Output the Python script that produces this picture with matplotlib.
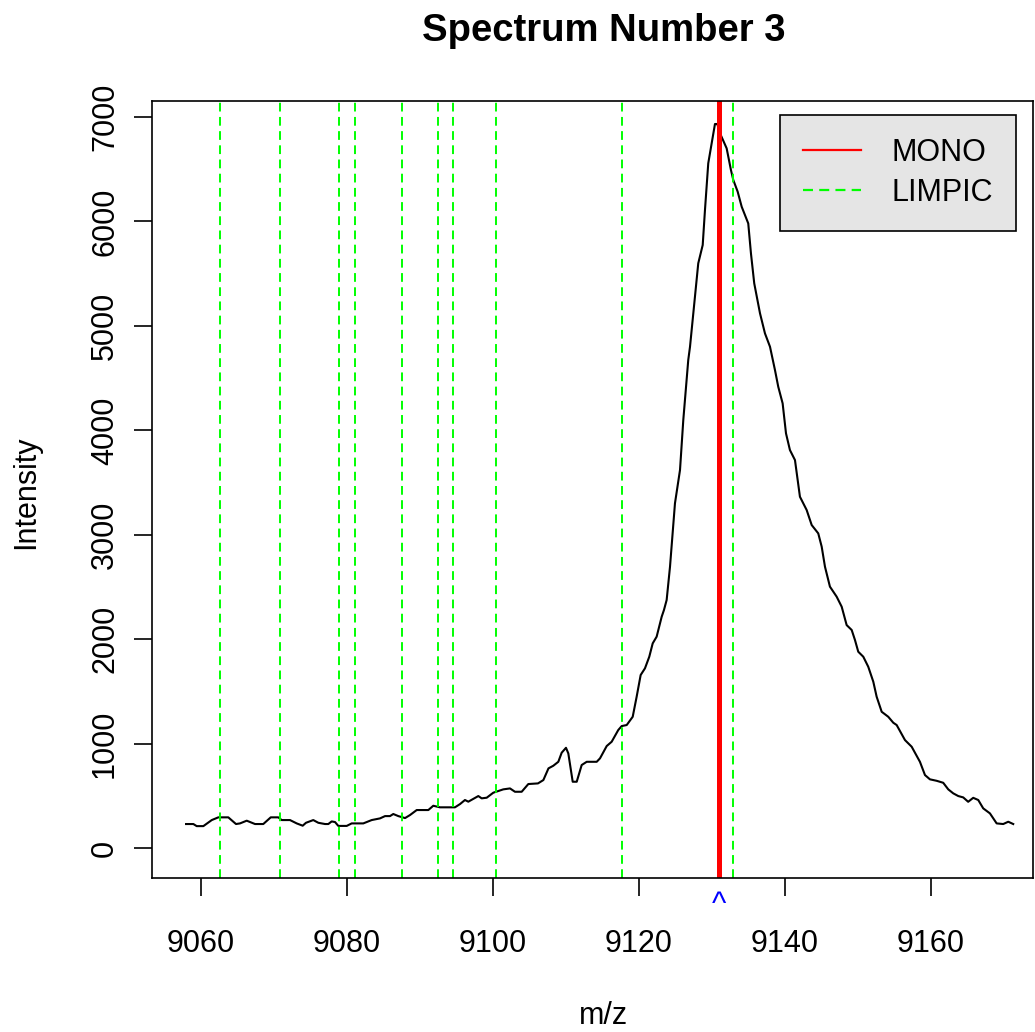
import matplotlib
matplotlib.use("Agg")
from matplotlib import pyplot as plt
from matplotlib.lines import Line2D
from matplotlib import transforms

plt.rcParams['font.family'] = ['Liberation Sans', 'DejaVu Sans']

# spectrum
mz = [9057.95, 9058.95, 9059.41, 9060.32, 9061.47, 9062.37, 9063.74, 9064.79, 9065.34,
      9066.26, 9067.40, 9068.53, 9069.55, 9070.59, 9071.05, 9072.19, 9073.11, 9073.93,
      9074.38, 9075.38, 9076.07, 9076.99, 9077.44, 9077.90, 9078.36, 9078.81, 9079.96,
      9080.64, 9082.23, 9083.38, 9084.52, 9085.21, 9085.89, 9086.34, 9087.03, 9087.95,
      9088.63, 9089.55, 9091.14, 9091.82, 9092.74, 9094.79, 9095.48, 9096.16, 9096.62,
      9097.99, 9098.45, 9099.14, 9100.04, 9101.41, 9102.33, 9103.01, 9103.93, 9104.84,
      9106.16, 9106.90, 9107.60, 9108.26, 9108.95, 9109.41, 9110.00, 9110.32, 9110.92,
      9111.47, 9112.15, 9112.84, 9114.21, 9114.66, 9115.58, 9116.26, 9117.16, 9117.63,
      9118.32, 9119.14, 9119.68, 9120.23, 9120.82, 9121.41, 9121.88, 9122.42, 9123.11,
      9123.42, 9123.79, 9124.25, 9124.93, 9125.62, 9126.07, 9126.75, 9126.99, 9127.44,
      9128.12, 9128.73, 9129.04, 9129.49, 9129.96, 9130.41, 9130.73, 9131.10, 9132.01,
      9132.60, 9132.92, 9133.52, 9134.07, 9134.97, 9135.34, 9135.79, 9136.58, 9137.26,
      9137.95, 9138.63, 9139.08, 9139.68, 9140.14, 9140.68, 9141.37, 9142.05, 9142.97,
      9143.66, 9144.56, 9145.03, 9145.48, 9146.16, 9147.08, 9147.77, 9148.45, 9149.14,
      9149.59, 9150.04, 9150.73, 9151.41, 9152.10, 9152.56, 9153.25, 9154.15, 9154.84,
      9155.30, 9156.44, 9157.36, 9158.49, 9159.18, 9159.86, 9160.78, 9161.68, 9162.37,
      9163.05, 9163.74, 9164.42, 9165.10, 9165.79, 9166.48, 9167.16, 9168.08, 9169.00,
      9169.90, 9170.59, 9171.27]
intensity = [230, 230, 210, 210, 268, 294, 294, 230, 236,
             262, 230, 230, 294, 294, 268, 268, 236, 214,
             242, 268, 242, 230, 230, 255, 249, 212, 212,
             236, 236, 268, 284, 306, 306, 326, 306, 287,
             316, 364, 364, 405, 390, 390, 421, 460, 444,
             498, 476, 482, 530, 562, 571, 539, 539, 613,
             619, 651, 763, 788, 826, 913, 960, 906, 635,
             635, 795, 826, 826, 859, 977, 1018, 1130, 1168,
             1178, 1257, 1449, 1657, 1721, 1832, 1960, 2024, 2215,
             2279, 2375, 2694, 3301, 3620, 4098, 4673, 4800, 5120,
             5599, 5774, 6109, 6557, 6748, 6933, 6933, 6844, 6700,
             6492, 6397, 6285, 6141, 5981, 5694, 5407, 5120, 4928,
             4800, 4577, 4417, 4258, 3971, 3811, 3715, 3364, 3237,
             3093, 3013, 2886, 2694, 2503, 2407, 2311, 2135, 2088,
             1992, 1880, 1832, 1736, 1593, 1449, 1305, 1257, 1200,
             1178, 1034, 970, 826, 699, 658, 644, 625, 562,
             524, 498, 485, 443, 481, 460, 380, 332, 236,
             230, 252, 230]

mono_peak = 9130.9
limpic_peaks = [9062.6, 9070.8, 9078.9, 9081.1, 9087.5, 9092.5, 9094.5, 9100.4, 9117.7, 9132.9]

x_ticks = [9060, 9080, 9100, 9120, 9140, 9160]
y_ticks = [0, 1000, 2000, 3000, 4000, 5000, 6000, 7000]

fig = plt.figure(figsize=(10.35, 10.32), dpi=100)
ax = fig.add_axes([0.1469, 0.1492, 0.8511, 0.7529])

ax.plot(mz, intensity, color="black", lw=1.5)
for p in limpic_peaks:
    ax.axvline(p, color="#00ff00", lw=1.4, linestyle=(0, (4.5, 2.8)))
ax.axvline(mono_peak, color="red", lw=3.6)

ax.set_xlim(9053.29, 9173.97)
ax.set_ylim(-287, 7153)
ax.set_xticks(x_ticks)
ax.set_yticks(y_ticks)
ax.set_xticklabels([str(v) for v in x_ticks], fontsize=22)
ax.set_yticklabels([str(v) for v in y_ticks], fontsize=22, rotation=90, va="center")
ax.tick_params(direction="out", length=13, width=1.2)
ax.tick_params(axis="x", pad=24)
ax.tick_params(axis="y", pad=10)
for s in ax.spines.values():
    s.set_linewidth(1.2)

# R centres the titles on a plot region that runs past the right edge
ax.set_title("Spectrum Number 3", fontsize=27.5, fontweight="bold", x=0.513, y=1.0772,
             va="baseline", pad=0)
ax.set_xlabel("m/z", fontsize=22)
ax.xaxis.set_label_coords(0.513, -0.1585)
ax.set_ylabel("Intensity", fontsize=22)
ax.yaxis.set_label_coords(-0.1255, 0.496)

# blue marker under the axis at the mono peak
trans = transforms.blended_transform_factory(ax.transData, ax.transAxes)
ax.text(mono_peak, -0.0154, "^", color="blue", fontsize=22, ha="center", va="top",
        transform=trans, clip_on=False)

handles = [Line2D([], [], color="red", lw=1.6),
           Line2D([], [], color="#00ff00", lw=1.6, linestyle=(0, (4.5, 2.8)))]
leg = ax.legend(handles, ["MONO", "LIMPIC"], loc="upper right", bbox_to_anchor=(0.9807, 0.982),
                fontsize=22, fancybox=False, framealpha=1, facecolor="#e5e5e5",
                edgecolor="black", handlelength=1.9, handletextpad=1.0, borderpad=0.75,
                labelspacing=0.32, borderaxespad=0)
leg.get_frame().set_linewidth(1.2)

plt.savefig("out.png", dpi=100)
